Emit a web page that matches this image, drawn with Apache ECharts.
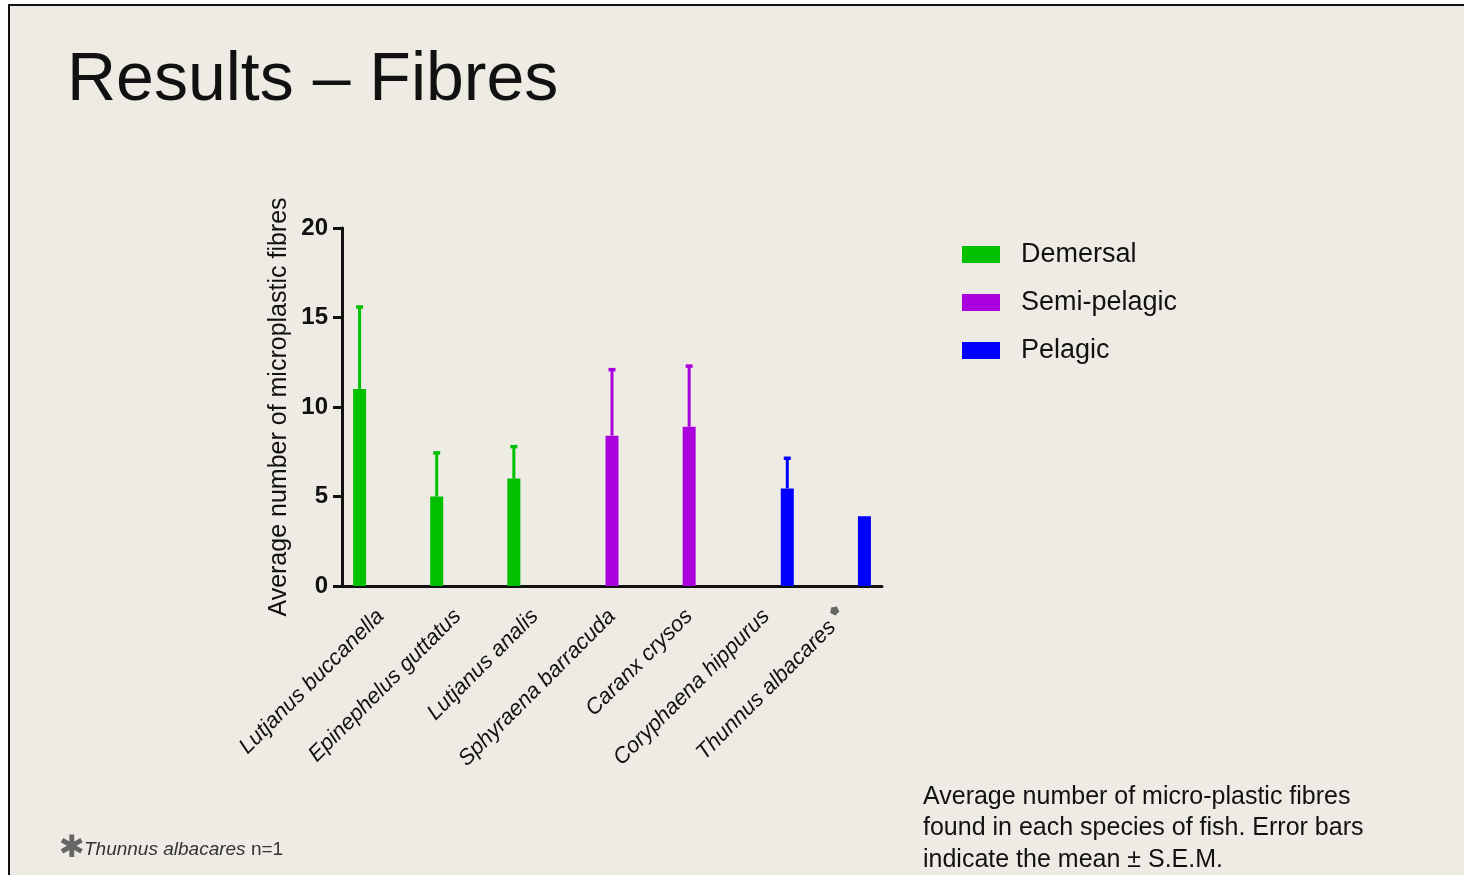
<!DOCTYPE html>
<html>
<head>
<meta charset="utf-8">
<title>Results - Fibres</title>
<style>
  html, body { margin:0; padding:0; width:100%; height:100%; background:#ffffff; }
  #main { width:1464px; height:875px; }
</style>
<script src="https://cdn.jsdelivr.net/npm/echarts@6/dist/echarts.min.js"></script>
</head>
<body>
<div id="main"></div>
<script>
// species on the x axis
var species = ['Lutjanus buccanella', 'Epinephelus guttatus', 'Lutjanus analis',
  'Sphyraena barracuda', 'Caranx crysos', 'Coryphaena hippurus', 'Thunnus albacares'];
var starred = ['Thunnus albacares'];   // n=1, marked with an asterisk

// mean fibres per fish, one array per group (null = not in that group)
var demersal    = [11,   5,    6,    null, null, null, null];
var semiPelagic = [null, null, null, 8.4,  8.9,  null, null];
var pelagic     = [null, null, null, null, null, 5.45, 3.9];

// S.E.M. for the error bars
var demersalSem    = [4.6,  2.45, 1.8,  null, null, null, null];
var semiPelagicSem = [null, null, null, 3.7,  3.4,  null, null];
var pelagicSem     = [null, null, null, null, null, 1.7,  null];

var yTicks = [0, 5, 10, 15, 20];

var groups = [
  { name: 'Demersal',     color: '#00c000', data: demersal,    sem: demersalSem },
  { name: 'Semi-pelagic', color: '#aa00dd', data: semiPelagic, sem: semiPelagicSem },
  { name: 'Pelagic',      color: '#0000ff', data: pelagic,     sem: pelagicSem }
];

var BAR_W = 13, BAR_GAP = 8;
var INK = '#111111';
var FONT = '"Liberation Sans", Arial, sans-serif';

var myChart = echarts.init(document.getElementById('main'));

var series = [];
groups.forEach(function (g) {
  series.push({
    name: g.name,
    type: 'bar',
    data: g.data,
    barWidth: BAR_W,
    barGap: (BAR_GAP / BAR_W * 100) + '%',
    itemStyle: { color: g.color },
    z: 2
  });
});
groups.forEach(function (g, gi) {
  var errData = [];
  g.data.forEach(function (v, i) {
    if (v != null && g.sem[i] != null) errData.push([i, v, g.sem[i]]);
  });
  var offset = (gi - 1) * (BAR_W + BAR_GAP);
  series.push({
    name: g.name + ' SEM',
    type: 'custom',
    data: errData,
    z: 3,
    silent: true,
    renderItem: function (params, api) {
      var base = api.coord([api.value(0), api.value(1)]);
      var top = api.coord([api.value(0), api.value(1) + api.value(2)]);
      var x = base[0] + offset;
      return {
        type: 'group',
        children: [
          { type: 'line', shape: { x1: x, y1: base[1], x2: x, y2: top[1] },
            style: { stroke: g.color, lineWidth: 3 } },
          { type: 'rect', shape: { x: x - 3.5, y: top[1] - 1.5, width: 7, height: 3.5 },
            style: { fill: g.color } }
        ]
      };
    }
  });
});

var option = {
  backgroundColor: '#ffffff',
  animation: false,
  textStyle: { fontFamily: FONT },
  graphic: [
    { type: 'rect', shape: { x: 10, y: 6, width: 1460, height: 875 },
      style: { fill: '#eeebe4' }, z: -10 },
    { type: 'line', shape: { x1: 9, y1: 5, x2: 1464, y2: 5 },
      style: { stroke: INK, lineWidth: 2 } },
    { type: 'line', shape: { x1: 9, y1: 4, x2: 9, y2: 875 },
      style: { stroke: INK, lineWidth: 2 } },
    { type: 'text', left: 923, top: 781,
      style: { text: 'Average number of micro-plastic fibres\nfound in each species of fish. Error bars\nindicate the mean \u00b1 S.E.M.',
        font: '25px ' + FONT, fill: INK, lineHeight: 31.5 } },
    { type: 'text', left: 59, top: 833,
      style: { text: '\u2731', font: 'bold 31px "DejaVu Sans", sans-serif', fill: '#666666' } },
    { type: 'text', left: 84, top: 840,
      style: { text: '{i|Thunnus albacares} n=1',
        font: '19px ' + FONT, fill: '#333333',
        rich: { i: { fontStyle: 'italic', fontSize: 19, fontFamily: FONT, fill: '#333333' } } } }
  ],
  title: {
    text: 'Results \u2013 Fibres',
    left: 62, top: 42,
    textStyle: { fontSize: 68, fontWeight: 'normal', color: INK, fontFamily: FONT }
  },
  legend: {
    orient: 'vertical',
    left: 957, top: 236,
    icon: 'rect',
    itemWidth: 38, itemHeight: 17,
    itemGap: 21,
    data: groups.map(function (g) { return g.name; }),
    textStyle: { fontSize: 27, color: INK, lineHeight: 27, padding: [0, 0, 0, 16] }
  },
  grid: { left: 342, right: 582, top: 228, bottom: 289 },
  xAxis: {
    type: 'category',
    data: species,
    axisLine: { lineStyle: { color: INK, width: 3 } },
    axisTick: { alignWithLabel: true, length: 9, lineStyle: { color: INK, width: 3 } },
    axisLabel: {
      rotate: 45, margin: 27, interval: 0,
      fontSize: 22, fontStyle: 'italic', color: INK,
      formatter: function (v) { return starred.indexOf(v) >= 0 ? v + '{s|\u2b1f}' : v; },
      rich: { s: { fontSize: 11, color: '#666666', verticalAlign: 'top', padding: [0, 0, 14, 6], fontStyle: 'normal', fontFamily: 'DejaVu Sans' } }
    }
  },
  yAxis: {
    type: 'value',
    min: yTicks[0], max: yTicks[yTicks.length - 1], interval: 5,
    name: 'Average number of microplastic fibres',
    nameLocation: 'middle', nameGap: 50,
    nameTextStyle: { fontSize: 25, color: INK },
    axisLine: { show: true, lineStyle: { color: INK, width: 3 } },
    axisTick: { show: true, length: 9, lineStyle: { color: INK, width: 3 } },
    axisLabel: { fontSize: 24, fontWeight: 'bold', color: INK, margin: 14 },
    splitLine: { show: false }
  },
  series: series
};

myChart.setOption(option);
</script>
</body>
</html>
